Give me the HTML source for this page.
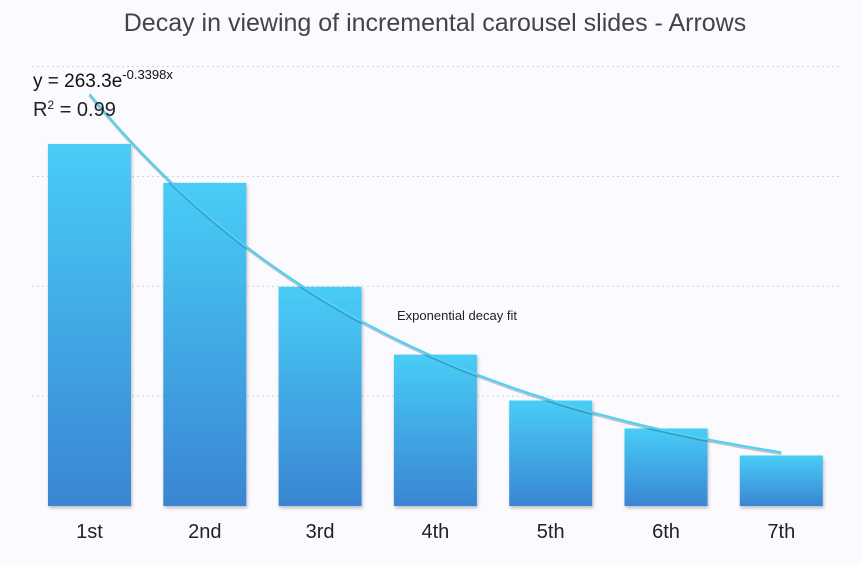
<!DOCTYPE html>
<html><head><meta charset="utf-8"><style>
body{margin:0;background:#fbfafe;}
svg{display:block;font-family:"Liberation Sans",sans-serif;}
</style></head><body>
<svg id="chart" width="861" height="565">
<defs>
<linearGradient id="bg" x1="0" y1="0" x2="0" y2="1"><stop offset="0" stop-color="#48cdf6"/><stop offset="1" stop-color="#3a85d3"/></linearGradient>
<filter id="sh" x="-10%" y="-10%" width="130%" height="130%"><feDropShadow dx="1" dy="2" stdDeviation="1.5" flood-color="#000" flood-opacity="0.25"/></filter>
</defs>
<rect width="861" height="565" fill="#fbfafe"/>
<text x="435" y="31" text-anchor="middle" font-size="25" fill="#444">Decay in viewing of incremental carousel slides - Arrows</text>
<g id="grid"></g>
<g id="bars"></g>
<g id="xlabels"></g>
<g id="fit"></g>
<text x="33" y="87" font-size="19" fill="#111">y = 263.3e<tspan dy="-8" font-size="13">-0.3398x</tspan></text>
<text x="33" y="116" font-size="20" fill="#222">R<tspan dy="-7" font-size="12">2</tspan><tspan dy="7"> = 0.99</tspan></text>
<text x="397" y="320" font-size="13" fill="#222">Exponential decay fit</text>
</svg>
<script>
const categories=["1st","2nd","3rd","4th","5th","6th","7th"];
const values=[164.8,147.1,99.8,68.9,48,35.3,23];
const gridTicks=[50,100,150,200];
const fitA=263.3, fitB=-0.3398;
const NS="http://www.w3.org/2000/svg";
const y0=506, pxPer=2.197;
function yScale(v){return y0-v*pxPer;}
function xScale(i){return 89.5+i*115.3;}
const bw=83;
const g=document.getElementById('grid');
gridTicks.forEach(t=>{
 const l=document.createElementNS(NS,'line');
 l.setAttribute('x1',32);l.setAttribute('x2',840);
 l.setAttribute('y1',yScale(t));l.setAttribute('y2',yScale(t));
 l.setAttribute('stroke','#d4d4d8');l.setAttribute('stroke-dasharray','2,3');
 
 
 g.appendChild(l);
});
const b=document.getElementById('bars'),xl=document.getElementById('xlabels');
values.forEach((v,i)=>{
 const r=document.createElementNS(NS,'rect');
 r.setAttribute('x',xScale(i)-bw/2);r.setAttribute('width',bw);
 r.setAttribute('y',yScale(v));r.setAttribute('height',y0-yScale(v));
 r.setAttribute('fill','url(#bg)');r.setAttribute('filter','url(#sh)');
 
 
 b.appendChild(r);
 const t=document.createElementNS(NS,'text');
 t.setAttribute('x',xScale(i));t.setAttribute('y',538);
 t.setAttribute('text-anchor','middle');t.setAttribute('font-size','20');t.setAttribute('fill','#222');
 t.textContent=categories[i];
 
 
 xl.appendChild(t);
});
let d='';
for(let k=0;k<=120;k++){
 const x=1+6*k/120;
 const px=xScale(x-1), py=yScale(fitA*Math.exp(fitB*x));
 d+=(k?'L':'M')+px.toFixed(1)+','+py.toFixed(1);
}
const f=document.getElementById('fit');
const s=document.createElementNS(NS,'path');
s.setAttribute('d',d);s.setAttribute('fill','none');s.setAttribute('stroke','rgba(0,0,0,0.22)');s.setAttribute('stroke-width','2.5');s.setAttribute('transform','translate(0,1.5)');


f.appendChild(s);
const p=document.createElementNS(NS,'path');
p.setAttribute('d',d);p.setAttribute('fill','none');p.setAttribute('stroke','#4fd0f5');p.setAttribute('stroke-width','2.2');


f.appendChild(p);
</script>
</body></html>
